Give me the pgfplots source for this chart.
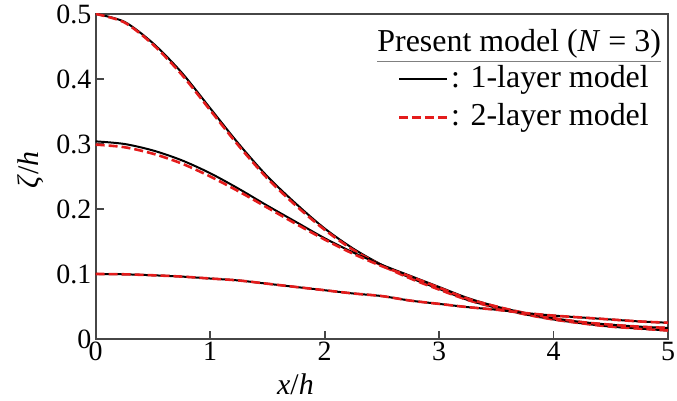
\documentclass[border=0pt]{standalone}
\usepackage{fontspec}
\setmainfont{Liberation Serif}
\usepackage{pgfplots}
\usepackage{pgfplotstable}
\pgfplotsset{compat=1.18}
\definecolor{axgray}{RGB}{70,70,70}
\definecolor{dashred}{RGB}{228,28,28}

% 1-layer model, three amplitudes
\pgfplotstableread{
x    a05    a03    a01
0    0.500  0.304  0.100
0.25 0.488  0.300  0.0995
0.5  0.455  0.290  0.098
0.75 0.410  0.275  0.096
1.0  0.355  0.255  0.093
1.25 0.300  0.231  0.090
1.5  0.250  0.205  0.085
1.75 0.208  0.180  0.080
2.0  0.170  0.155  0.075
2.25 0.139  0.133  0.070
2.5  0.114  0.114  0.066
2.75 0.094  0.097  0.059
3.0  0.077  0.080  0.054
3.25 0.060  0.063  0.049
3.5  0.048  0.050  0.045
3.75 0.038  0.040  0.040
4.0  0.030  0.032  0.036
4.25 0.024  0.026  0.033
4.5  0.019  0.022  0.030
4.75 0.016  0.019  0.027
5.0  0.013  0.017  0.025
}\onelayer

% 2-layer model
\pgfplotstableread{
x    a05    a03    a01
0    0.500  0.299  0.100
0.25 0.487  0.295  0.0995
0.5  0.453  0.285  0.098
0.75 0.407  0.270  0.096
1.0  0.352  0.250  0.093
1.25 0.297  0.227  0.090
1.5  0.247  0.202  0.085
1.75 0.205  0.177  0.080
2.0  0.168  0.153  0.075
2.25 0.137  0.131  0.070
2.5  0.113  0.112  0.066
2.75 0.093  0.096  0.059
3.0  0.076  0.079  0.054
3.25 0.060  0.062  0.049
3.5  0.048  0.050  0.045
3.75 0.038  0.040  0.040
4.0  0.030  0.032  0.036
4.25 0.024  0.026  0.033
4.5  0.019  0.022  0.030
4.75 0.016  0.019  0.027
5.0  0.013  0.017  0.025
}\twolayer

\begin{document}
\begin{tikzpicture}
\begin{axis}[
    scale only axis,
    width=287pt, height=163pt,
    xmin=0, xmax=5, ymin=0, ymax=0.5,
    xtick={0,1,2,3,4,5},
    ytick={0,0.1,0.2,0.3,0.4,0.5},
    tick align=inside,
    xtick pos=bottom, ytick pos=left,
    major tick length=4pt,
    axis line style={axgray, line width=0.9pt},
    every tick/.style={axgray, line width=0.9pt},
    tick label style={font=\fontsize{14}{16}\selectfont},
    /pgf/number format/assume math mode=true,
    yticklabel style={inner sep=2pt},
    xticklabel style={inner sep=1.5pt},
    xlabel={\textit{x}/\textit{h}},
    xlabel style={at={(axis description cs:0.349,0)}, anchor=north,
        yshift=-17pt, inner sep=0pt, font=\fontsize{15}{17}\selectfont},
    ylabel={\textit{ζ}/\textit{h}},
    ylabel style={at={(axis description cs:-0.114,0.52)}, anchor=center,
        inner sep=0pt, font=\fontsize{15}{17}\selectfont},
    legend image code/.code={\draw[#1] (0pt,0pt) -- (24pt,0pt);},
    legend style={at={(rel axis cs:0.527,0.858)}, anchor=north west,
        draw=none, fill=none, inner sep=0pt, row sep=0pt,
        font=\fontsize{16}{19}\selectfont,
        nodes={inner sep=1.5pt, text height=12pt, text depth=4pt}},
    legend cell align=left,
]
\addplot[black, line width=1pt, smooth] table[x=x, y=a05] {\onelayer};
\addlegendentry{: 1-layer model}
\addplot[dashred, line width=1.3pt, dash pattern=on 4.5pt off 2pt, smooth] table[x=x, y=a05] {\twolayer};
\addlegendentry{: 2-layer model}
\addplot[black, line width=1pt, smooth, forget plot] table[x=x, y=a03] {\onelayer};
\addplot[dashred, line width=1.3pt, dash pattern=on 4.5pt off 2pt, smooth, forget plot] table[x=x, y=a03] {\twolayer};
\addplot[black, line width=1pt, smooth, forget plot] table[x=x, y=a01] {\onelayer};
\addplot[dashred, line width=1.3pt, dash pattern=on 4.5pt off 2pt, smooth, forget plot] table[x=x, y=a01] {\twolayer};
\node[anchor=base, inner sep=0pt, font=\fontsize{16}{19}\selectfont]
    at (rel axis cs:0.74,0.885)
    {{\color{gray}\underline{\textcolor{black}{Present model (\textit{N} = 3)}}}};
\end{axis}
\pgfresetboundingbox
\path (current axis.south west) ++(-48pt,-31pt);
\path (current axis.north east) ++(4.5pt,7pt);
\end{tikzpicture}
\end{document}
